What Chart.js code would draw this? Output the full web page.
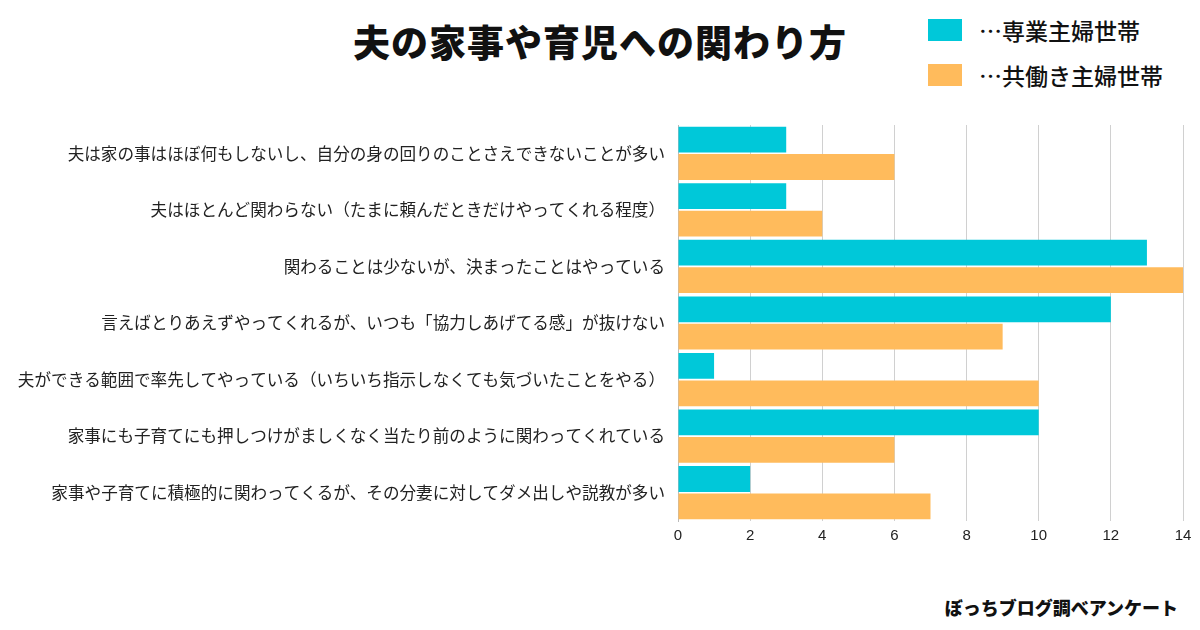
<!DOCTYPE html>
<html lang="ja">
<head>
<meta charset="utf-8">
<script src="https://cdn.jsdelivr.net/npm/chart.js@4/dist/chart.umd.min.js"></script>
<style>
  html, body { margin: 0; padding: 0; background: #fff; }
  body { width: 1200px; height: 630px; position: relative; overflow: hidden; font-family: "Noto Sans CJK JP", sans-serif; }
  #title { position: absolute; left: 0; width: 1200px; top: 14px; text-align: center; font-size: 37px; font-weight: 900; color: #111; letter-spacing: 1px; }
  #legend { position: absolute; left: 928px; top: 7px; }
  .lg { display: flex; align-items: center; height: 45px; font-size: 23px; font-weight: 500; color: #111; }
  .lg span.box { width: 34px; height: 22px; margin-right: 17px; }
  #footer { position: absolute; right: 22px; top: 594px; font-size: 18px; font-weight: 900; color: #111; }
  #wrap { position: absolute; left: 0; top: 0; width: 1200px; height: 630px; }
</style>
</head>
<body>
<div id="title">夫の家事や育児への関わり方</div>
<div id="legend"></div>
<div id="footer">ぼっちブログ調べアンケート</div>
<div id="wrap"><canvas id="grafico"></canvas></div>
<script>
const categorias = [
    '夫は家の事はほぼ何もしないし、自分の身の回りのことさえできないことが多い',
    '夫はほとんど関わらない（たまに頼んだときだけやってくれる程度）',
    '関わることは少ないが、決まったことはやっている',
    '言えばとりあえずやってくれるが、いつも「協力しあげてる感」が抜けない',
    '夫ができる範囲で率先してやっている（いちいち指示しなくても気づいたことをやる）',
    '家事にも子育てにも押しつけがましくなく当たり前のように関わってくれている',
    '家事や子育てに積極的に関わってくるが、その分妻に対してダメ出しや説教が多い'
];
const sengyo = [3, 3, 13, 12, 1, 10, 2];
const tomobataraki = [6, 4, 14, 9, 10, 6, 7];
const nombres = ['…専業主婦世帯', '…共働き主婦世帯'];
const colores = ['#00C8D9', '#FFBB5C'];

document.getElementById('legend').innerHTML = nombres.map((n, i) =>
    `<div class="lg"><span class="box" style="background:${colores[i]}"></span>${n}</div>`
).join('');

const ctx = document.getElementById('grafico').getContext('2d');
new Chart(ctx, {
    type: 'bar',
    data: {
        labels: categorias,
        datasets: [
            { label: nombres[0], data: sengyo, backgroundColor: colores[0], borderWidth: 0 },
            { label: nombres[1], data: tomobataraki, backgroundColor: colores[1], borderWidth: 0 }
        ]
    },
    options: {
        indexAxis: 'y',
        responsive: true,
        maintainAspectRatio: false,
        animation: false,
        layout: { padding: { top: 125, right: 17, bottom: 79, left: 0 } },
        categoryPercentage: 0.97,
        barPercentage: 0.94,
        plugins: { legend: { display: false }, tooltip: { enabled: false } },
        scales: {
            x: {
                min: 0, max: 14,
                ticks: { stepSize: 2, color: '#222', font: { family: 'Liberation Sans, Arial, sans-serif', size: 15 }, padding: 6 },
                grid: { color: '#d0d0d0', drawTicks: false },
                border: { display: false }
            },
            y: {
                afterFit: s => { s.width = 678; },
                ticks: { color: '#222', font: { family: 'Noto Sans CJK JP', size: 16.6 }, padding: 5, autoSkip: false },
                grid: { display: false },
                border: { color: '#bbb' }
            }
        }
    }
});
</script>
</body>
</html>
